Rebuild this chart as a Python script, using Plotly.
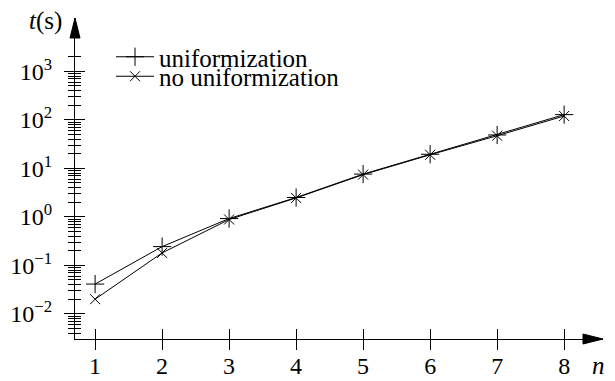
import plotly.graph_objects as go

n_values = [1, 2, 3, 4, 5, 6, 7, 8]
t_uniformization = [0.041, 0.243, 0.92, 2.5, 7.6, 19.5, 48.7, 128]
t_no_uniformization = [0.020, 0.18, 0.88, 2.45, 7.4, 19.0, 47.0, 120]

y_major_vals = [0.01, 0.1, 1, 10, 100, 1000]
y_major_text = ["10<sup>\u22122</sup>", "10<sup>\u22121</sup>", "10<sup>0</sup>",
                "10<sup>1</sup>", "10<sup>2</sup>", "10<sup>3</sup>"]
x_tick_vals = [1, 2, 3, 4, 5, 6, 7, 8]
x_tick_text = ["1", "2", "3", "4", "5", "6", "7", "8"]

y_minor_vals = [k * 10.0 ** d for d in range(-3, 4) for k in range(2, 10)
                if 0.0031 <= k * 10.0 ** d <= 2001]

FONT = '"Liberation Serif", "Times New Roman", Times, serif'
W, H = 615, 381
ML, MR, MT, MB = 75, 12, 18, 42
PW, PH = W - ML - MR, H - MT - MB

fig = go.Figure()
fig.add_trace(go.Scatter(
    x=n_values, y=t_uniformization, mode="lines+markers", name="uniformization",
    line=dict(color="black", width=1),
    marker=dict(symbol="cross-thin", size=13, color="black", line=dict(color="black", width=1)),
    legend="legend",
))
fig.add_trace(go.Scatter(
    x=n_values, y=t_no_uniformization, mode="lines+markers", name="no uniformization",
    line=dict(color="black", width=1),
    marker=dict(symbol="x-thin", size=10, color="black", line=dict(color="black", width=1)),
    legend="legend2",
))
# invisible trace to instantiate the mirrored tick axes
fig.add_trace(go.Scatter(x=[None], y=[None], xaxis="x2", yaxis="y2", showlegend=False,
                         hoverinfo="skip"))

xr = [0.70, 8.58]
yr = [-2.52, 4.10]
tickcol = "black"

fig.update_layout(
    width=W, height=H,
    margin=dict(l=ML, r=MR, t=MT, b=MB, pad=0, autoexpand=False),
    paper_bgcolor="white", plot_bgcolor="white",
    font=dict(family=FONT, size=24, color="black"),
    xaxis=dict(
        range=xr, showgrid=False, zeroline=False, automargin=False,
        showline=True, linecolor="black", linewidth=1,
        tickmode="array", tickvals=x_tick_vals, ticktext=x_tick_text,
        ticks="outside", ticklen=10, tickwidth=1, tickcolor=tickcol,
        ticklabelstandoff=-5, tickfont=dict(family=FONT, size=24),
        anchor="y",
    ),
    yaxis=dict(
        type="log", range=yr, showgrid=False, zeroline=False, automargin=False,
        showline=True, linecolor="black", linewidth=1,
        tickmode="array", tickvals=y_major_vals, ticktext=y_major_text,
        ticks="outside", ticklen=10, tickwidth=1, tickcolor=tickcol,
        ticklabelstandoff=7, tickfont=dict(family=FONT, size=24),
        minor=dict(tickmode="array", tickvals=y_minor_vals, ticks="outside",
                   ticklen=6, tickwidth=1, tickcolor=tickcol, showgrid=False),
        anchor="x",
    ),
    xaxis2=dict(
        range=xr, overlaying="x", anchor="y", showgrid=False, zeroline=False,
        showline=False, showticklabels=False, automargin=False,
        tickmode="array", tickvals=x_tick_vals,
        ticks="inside", ticklen=10, tickwidth=1, tickcolor=tickcol,
    ),
    yaxis2=dict(
        type="log", range=yr, overlaying="y", anchor="x", side="left",
        showgrid=False, zeroline=False, showline=False, showticklabels=False,
        automargin=False,
        tickmode="array", tickvals=y_major_vals,
        ticks="inside", ticklen=10, tickwidth=1, tickcolor=tickcol,
        minor=dict(tickmode="array", tickvals=y_minor_vals, ticks="inside",
                   ticklen=6, tickwidth=1, tickcolor=tickcol, showgrid=False),
    ),
    legend=dict(
        x=(111 - ML) / PW, y=1 - (57 - MT) / PH, xanchor="left", yanchor="middle",
        bgcolor="rgba(0,0,0,0)", font=dict(family=FONT, size=25),
        itemwidth=38, borderwidth=0,
    ),
    legend2=dict(
        x=(111 - ML) / PW, y=1 - (76.5 - MT) / PH, xanchor="left", yanchor="middle",
        bgcolor="rgba(0,0,0,0)", font=dict(family=FONT, size=25),
        itemwidth=38, borderwidth=0,
    ),
    showlegend=True,
)

# axis arrowheads (paper coordinates)
ah_len_y, ah_half_y = 20 / PH, 5 / PW
ah_len_x, ah_half_x = 20 / PW, 5 / PH
fig.add_shape(type="path", xref="paper", yref="paper",
              path=f"M 0 1 L {-ah_half_y} {1 - ah_len_y} L {ah_half_y} {1 - ah_len_y} Z",
              fillcolor="black", line=dict(color="black", width=1))
fig.add_shape(type="path", xref="paper", yref="paper",
              path=f"M 1 0 L {1 - ah_len_x} {ah_half_x} L {1 - ah_len_x} {-ah_half_x} Z",
              fillcolor="black", line=dict(color="black", width=1))

fig.add_annotation(text="<i>t</i>(s)", xref="paper", yref="paper",
                   x=-(75 - 64) / PW, y=1 - (21 - MT) / PH, xanchor="right", yanchor="middle",
                   showarrow=False, font=dict(family=FONT, size=25))
fig.add_annotation(text="<i>n</i>", xref="paper", yref="paper",
                   x=(607 - ML) / PW, y=-(365 - (H - MB)) / PH, xanchor="right", yanchor="middle",
                   showarrow=False, font=dict(family=FONT, size=25))

fig.write_html("out.html", config={"displayModeBar": False},
               post_script="document.body.style.margin='0px';")
